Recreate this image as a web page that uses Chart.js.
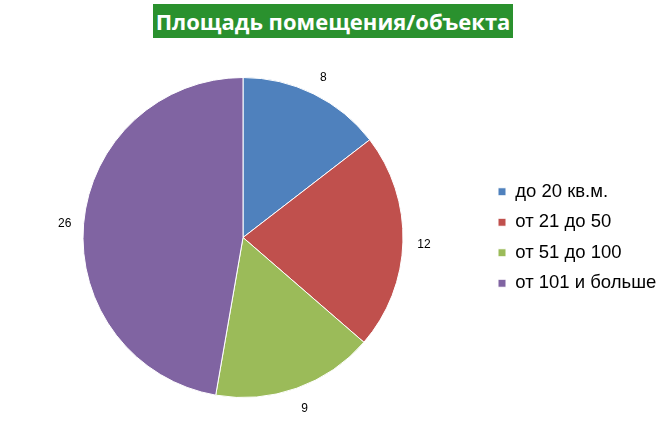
<!DOCTYPE html>
<html>
<head>
<meta charset="utf-8">
<script src="https://cdn.jsdelivr.net/npm/chart.js@4"></script>
<style>
    html, body { margin: 0; padding: 0; background: #fff; }
    #wrap { position: relative; width: 666px; height: 421px; }
    #title {
        position: absolute; left: 153px; top: 4px; width: 360px; height: 34px;
        background: #2a912e; color: #fff;
        font: bold 22px "Open Sans", sans-serif; line-height: 34px;
        text-align: center; white-space: nowrap; letter-spacing: 0;
    }
    canvas { position: absolute; left: 0; top: 0; }
</style>
</head>
<body>
<div id="wrap">
    <div id="title">Площадь помещения/объекта</div>
    <canvas id="chart" width="666" height="421"></canvas>
</div>
<script>
const categories = ["до 20 кв.м.", "от 21 до 50", "от 51 до 100", "от 101 и больше"];
const counts = [8, 12, 9, 26];
const sliceColors = ["#4f81bd", "#c0504d", "#9bbb59", "#8064a2"];

// value labels just outside each slice
const outsideLabels = {
    id: "outsideLabels",
    afterDatasetsDraw(chart) {
        const ctx = chart.ctx;
        const meta = chart.getDatasetMeta(0);
        ctx.save();
        ctx.font = "12px 'Liberation Sans', Arial, sans-serif";
        ctx.fillStyle = "#000";
        ctx.textAlign = "center";
        ctx.textBaseline = "middle";
        meta.data.forEach((arc, i) => {
            const p = arc.getProps(["x", "y", "startAngle", "endAngle", "outerRadius"], true);
            const mid = (p.startAngle + p.endAngle) / 2;
            const r = p.outerRadius + 20;
            ctx.fillText(String(counts[i]), p.x + Math.cos(mid) * r + 1, p.y + Math.sin(mid) * r + 2);
        });
        ctx.restore();
    }
};

new Chart(document.getElementById("chart").getContext("2d"), {
    type: "pie",
    data: {
        labels: categories,
        datasets: [{
            data: counts,
            backgroundColor: sliceColors,
            borderColor: "#fff",
            borderWidth: 1,
            hoverOffset: 0
        }]
    },
    options: {
        responsive: false,
        animation: false,
        layout: { padding: { left: 0, right: 2, top: 77, bottom: 23 } },
        plugins: {
            title: { display: false },
            tooltip: { enabled: false },
            legend: {
                position: "right",
                maxWidth: 178,
                labels: {
                    boxWidth: 8,
                    boxHeight: 8,
                    padding: 12,
                    color: "#000",
                    font: { size: 18.5, family: "'Liberation Sans', Arial, sans-serif" }
                }
            }
        }
    },
    plugins: [outsideLabels]
});
</script>
</body>
</html>
